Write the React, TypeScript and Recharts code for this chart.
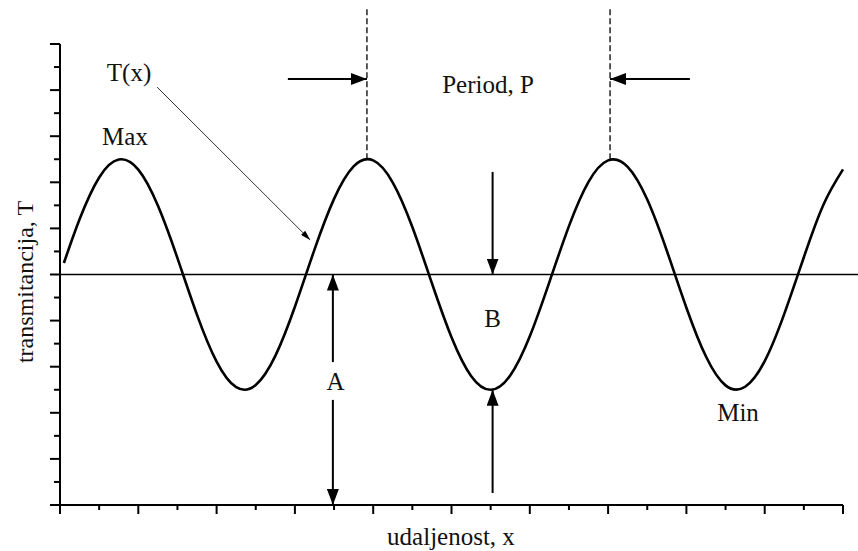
import { LineChart, Line, XAxis, YAxis, ReferenceLine, Customized } from 'recharts';

// distance samples and transmittance
const distance = [
  0.1, 0.5, 1, 1.5, 2, 2.5, 3, 3.5, 4, 4.5, 5, 5.5, 6, 6.5, 7, 7.5, 8, 8.5, 9, 9.5, 10,
  10.5, 11, 11.5, 12, 12.5, 13, 13.5, 14, 14.5, 15, 15.5, 16, 16.5, 17, 17.5, 18, 18.5, 19, 19.5, 20,
];
const transmittance = [
  10.5, 12.4, 14.21, 14.99, 14.55, 12.99, 10.71, 8.25, 6.22, 5.11, 5.21, 6.47, 8.6, 11.08, 13.28, 14.69, 14.95, 13.99, 12.06, 9.62, 7.28,
  5.6, 5.0, 5.62, 7.32, 9.67, 12.1, 14.02, 14.95, 14.67, 13.25, 11.03, 8.56, 6.44, 5.19, 5.13, 6.24, 8.29, 10.75, 13.03, 14.56,
];
const xTicks = [0, 1, 2, 3, 4, 5, 6, 7, 8, 9, 10, 11, 12, 13, 14, 15, 16, 17, 18, 19, 20];
const yTicks = [0, 1, 2, 3, 4, 5, 6, 7, 8, 9, 10, 11, 12, 13, 14, 15, 16, 17, 18, 19, 20];

// annotation positions in data units
const meanLevel = 10;
const peaks = [7.84, 14.05];
const peakLevel = 15;
const troughLevel = 5;
const bX = 11.05;
const aX = 6.97;

const data = distance.map((x, i) => ({ x, T: transmittance[i] }));

const font = '"Liberation Serif", "Times New Roman", serif';

const YTick = (props: any) => {
  const { x, y, payload } = props;
  const len = payload.value % 2 === 0 ? 10 : 6;
  return <line x1={x - len} x2={x} y1={y} y2={y} stroke="#000" strokeWidth={2} />;
};

const XTick = (props: any) => {
  const { x, y, payload } = props;
  const len = payload.value % 2 === 0 ? 9 : 5;
  return <line x1={x} x2={x} y1={y} y2={y + len} stroke="#000" strokeWidth={2} />;
};

const Labels = () => (
  <g fontFamily={font} fontSize={25} fill="#111">
    <text x={488} y={93} textAnchor="middle">Period, P</text>
    <text x={129} y={81} textAnchor="middle">T(x)</text>
    <text x={125} y={145} textAnchor="middle">Max</text>
    <text x={738} y={421} textAnchor="middle">Min</text>
    <text x={335.5} y={390} textAnchor="middle">A</text>
    <text x={492.5} y={327} textAnchor="middle">B</text>
    <text x={451} y={545} textAnchor="middle">udaljenost, x</text>
    <text x={33} y={282} fontSize={24} textAnchor="middle" transform="rotate(-90, 33, 282)">transmitancija, T</text>
  </g>
);

export default function App() {
  return (
    <div style={{ position: 'absolute', left: 0, top: 0 }}>
      <svg width={0} height={0} style={{ position: 'absolute' }}>
        <defs>
          <marker id="head" viewBox="0 0 16 12" refX={16} refY={6} markerWidth={16} markerHeight={12}
            markerUnits="userSpaceOnUse" orient="auto">
            <path d="M0,0 L16,6 L0,12 z" fill="#000" />
          </marker>
          <marker id="thin" viewBox="0 0 10 6" refX={10} refY={3} markerWidth={10} markerHeight={6}
            markerUnits="userSpaceOnUse" orient="auto">
            <path d="M0,0 L10,3 L0,6 z" fill="#000" />
          </marker>
        </defs>
      </svg>
      <LineChart width={858} height={551} data={data} margin={{ top: 44, right: 15, bottom: 0, left: 0 }}>
        <XAxis dataKey="x" type="number" domain={[0, 20]} ticks={xTicks} height={46}
          tickSize={0} tickMargin={0} tickLine={false} tick={<XTick />}
          axisLine={{ stroke: '#000', strokeWidth: 2 }} />
        <YAxis type="number" domain={[0, 20]} ticks={yTicks} width={60}
          tickSize={0} tickMargin={0} tickLine={false} tick={<YTick />}
          axisLine={{ stroke: '#000', strokeWidth: 2 }} />
        <ReferenceLine segment={[{ x: 0, y: meanLevel }, { x: 20.4, y: meanLevel }]} ifOverflow="visible"
          stroke="#000" strokeWidth={1.6} />
        {peaks.map((p) => (
          <ReferenceLine key={p} segment={[{ x: p, y: peakLevel }, { x: p, y: 21.55 }]} ifOverflow="visible"
            stroke="#000" strokeWidth={1.3} strokeDasharray="6 3" />
        ))}
        <ReferenceLine segment={[{ x: 5.82, y: 18.48 }, { x: peaks[0], y: 18.48 }]} ifOverflow="visible"
          stroke="#000" strokeWidth={2} markerEnd="url(#head)" />
        <ReferenceLine segment={[{ x: 16.09, y: 18.48 }, { x: peaks[1], y: 18.48 }]} ifOverflow="visible"
          stroke="#000" strokeWidth={2} markerEnd="url(#head)" />
        <ReferenceLine segment={[{ x: bX, y: 14.45 }, { x: bX, y: meanLevel }]} ifOverflow="visible"
          stroke="#000" strokeWidth={2} markerEnd="url(#head)" />
        <ReferenceLine segment={[{ x: bX, y: 0.52 }, { x: bX, y: troughLevel }]} ifOverflow="visible"
          stroke="#000" strokeWidth={2} markerEnd="url(#head)" />
        <ReferenceLine segment={[{ x: aX, y: 6.2 }, { x: aX, y: meanLevel }]} ifOverflow="visible"
          stroke="#000" strokeWidth={2} markerEnd="url(#head)" />
        <ReferenceLine segment={[{ x: aX, y: 4.56 }, { x: aX, y: 0 }]} ifOverflow="visible"
          stroke="#000" strokeWidth={2} markerEnd="url(#head)" />
        <ReferenceLine segment={[{ x: 2.48, y: 18.13 }, { x: 6.39, y: 11.5 }]} ifOverflow="visible"
          stroke="#333" strokeWidth={1} markerEnd="url(#thin)" />
        <Line type="natural" dataKey="T" stroke="#000" strokeWidth={2.6} dot={false} isAnimationActive={false} />
        <Customized component={<Labels />} />
      </LineChart>
    </div>
  );
}
